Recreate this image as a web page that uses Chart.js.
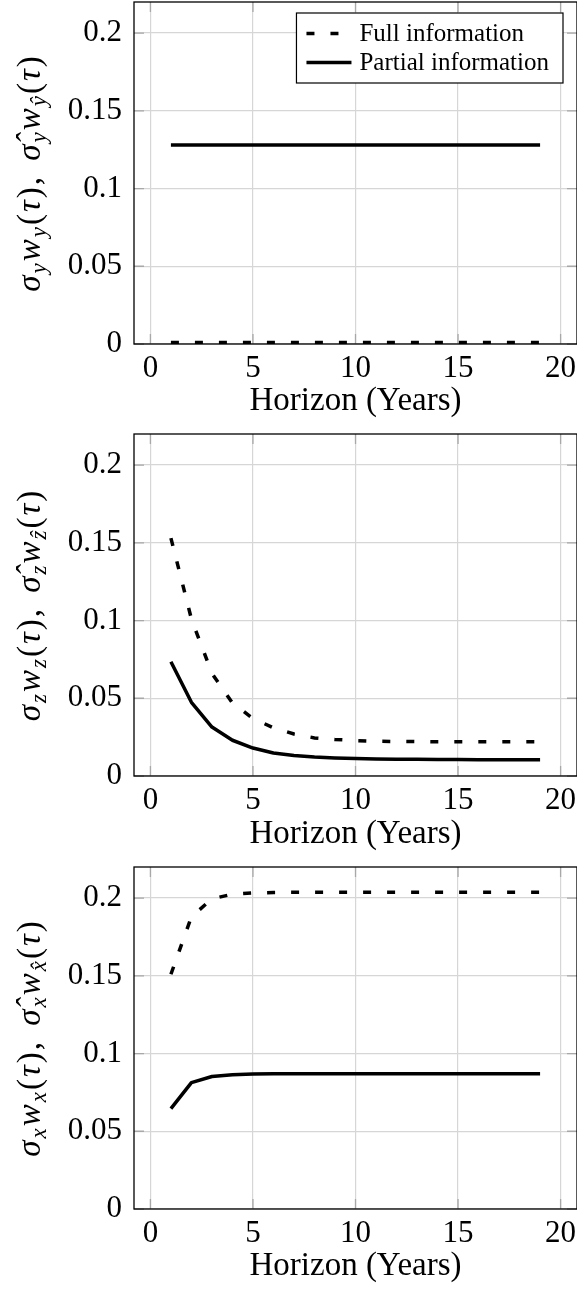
<!DOCTYPE html>
<html>
<head>
<meta charset="utf-8">
<script src="https://cdn.jsdelivr.net/npm/chart.js@4.4.0/dist/chart.umd.min.js"></script>
<style>
  body { margin: 0; background: #fff; width: 577px; height: 1297px; overflow: hidden; }
  .panel { position: relative; width: 577px; }
</style>
</head>
<body>
<div class="panel" style="height:432px"><canvas id="chartY"></canvas></div>
<div class="panel" style="height:433px"><canvas id="chartZ"></canvas></div>
<div class="panel" style="height:432px"><canvas id="chartX"></canvas></div>
<script>
// horizon in years
const horizon = [1, 2, 3, 4, 5, 6, 7, 8, 9, 10, 11, 12, 13, 14, 15, 16, 17, 18, 19];
const xTicks = [0, 5, 10, 15, 20];
const yTicks = [0, 0.05, 0.1, 0.15, 0.2];
const yTickLabels = ['0', '0.05', '0.1', '0.15', '0.2'];
const seriesNames = ['Full information', 'Partial information'];

// top panel (y)
const fullY = [0.001, 0.001, 0.001, 0.001, 0.001, 0.001, 0.001, 0.001, 0.001, 0.001, 0.001, 0.001, 0.001, 0.001, 0.001, 0.001, 0.001, 0.001, 0.001];
const partialY = [0.128, 0.128, 0.128, 0.128, 0.128, 0.128, 0.128, 0.128, 0.128, 0.128, 0.128, 0.128, 0.128, 0.128, 0.128, 0.128, 0.128, 0.128, 0.128];

// middle panel (z)
const fullZ = [0.153, 0.101, 0.066, 0.047, 0.037, 0.031, 0.027, 0.0245, 0.0235, 0.0228, 0.0224, 0.0222, 0.0221, 0.022, 0.022, 0.022, 0.022, 0.022, 0.022];
const partialZ = [0.0735, 0.0474, 0.0315, 0.023, 0.018, 0.0148, 0.0132, 0.0122, 0.0116, 0.0112, 0.011, 0.0108, 0.0107, 0.0106, 0.0106, 0.0105, 0.0105, 0.0105, 0.0105];

// bottom panel (x)
const fullX = [0.151, 0.188, 0.1995, 0.2025, 0.2033, 0.2036, 0.2037, 0.2037, 0.2037, 0.2037, 0.2037, 0.2037, 0.2037, 0.2037, 0.2037, 0.2037, 0.2037, 0.2037, 0.2037];
const partialX = [0.0646, 0.0813, 0.0852, 0.0864, 0.0868, 0.087, 0.087, 0.087, 0.087, 0.087, 0.087, 0.087, 0.087, 0.087, 0.087, 0.087, 0.087, 0.087, 0.087];

const serif = '"Liberation Serif", "DejaVu Serif", serif';

// rotated y label with subscripts, drawn as text
const yLabel = {
  id: 'yLabel',
  afterDraw(chart, args, opts) {
    const { ctx, chartArea } = chart;
    const s = opts.sub;
    const hatSub = s === 'y' ? 'ŷ' : s + '\u0302';
    const big = 33, small = 23, gap = 2;
    const parts = [
      ['σ', 'italic', 0], [s, 'italic', 1], ['w', 'italic', 0], [s, 'italic', 1],
      ['(', 'normal', 0], ['τ', 'italic', 0], [')', 'normal', 0], [',', 'normal', 0], [' ', 'normal', 0],
      ['σ\u0302', 'italic', 0], [s, 'italic', 1], ['w', 'italic', 0], [hatSub, 'italic', 1],
      ['(', 'normal', 0], ['τ', 'italic', 0], [')', 'normal', 0]
    ];
    const fontOf = p => p[1] + ' ' + (p[2] ? small : big) + 'px ' + serif;
    let total = 0;
    parts.forEach(p => {
      ctx.font = fontOf(p);
      p.w = ctx.measureText(p[0]).width + (p[0] === ' ' ? 6 : gap);
      total += p.w;
    });
    ctx.save();
    ctx.translate(opts.x, (chartArea.top + chartArea.bottom) / 2);
    ctx.rotate(-Math.PI / 2);
    ctx.fillStyle = '#000';
    ctx.textBaseline = 'alphabetic';
    let u = -total / 2;
    parts.forEach(p => {
      ctx.font = fontOf(p);
      ctx.fillText(p[0], u, p[2] ? 6 : 0);
      u += p.w;
    });
    ctx.restore();
  }
};

// tick marks inside the box, and the box itself
const frame = {
  id: 'frame',
  beforeDatasetsDraw(chart) {
    const { ctx, chartArea: a, scales } = chart;
    ctx.save();
    ctx.strokeStyle = '#a8a8a8';
    ctx.lineWidth = 1.3;
    ctx.beginPath();
    scales.x.ticks.forEach(t => {
      const px = scales.x.getPixelForValue(t.value);
      ctx.moveTo(px, a.bottom); ctx.lineTo(px, a.bottom - 10);
      ctx.moveTo(px, a.top); ctx.lineTo(px, a.top + 10);
    });
    scales.y.ticks.forEach(t => {
      const py = scales.y.getPixelForValue(t.value);
      ctx.moveTo(a.left, py); ctx.lineTo(a.left + 10, py);
      ctx.moveTo(a.right, py); ctx.lineTo(a.right - 10, py);
    });
    ctx.stroke();
    ctx.restore();
  },
  afterDatasetsDraw(chart) {
    const { ctx, chartArea: a } = chart;
    ctx.save();
    ctx.strokeStyle = '#000';
    ctx.lineWidth = 1.3;
    ctx.strokeRect(a.left, a.top, a.right - a.left, a.bottom - a.top);
    ctx.restore();
  }
};

// legend box in the top right corner of the plot
const boxLegend = {
  id: 'boxLegend',
  afterDraw(chart, args, opts) {
    if (!opts.show) return;
    const { ctx, chartArea } = chart;
    ctx.save();
    ctx.font = '25px ' + serif;
    const items = chart.data.datasets;
    const textW = Math.max(...items.map(d => ctx.measureText(d.label).width));
    const w = 10 + 45 + 8 + textW + 14, h = 70;
    const x0 = chartArea.right - 14 - w, y0 = chartArea.top + 11;
    ctx.fillStyle = '#fff';
    ctx.fillRect(x0, y0, w, h);
    ctx.strokeStyle = '#000';
    ctx.lineWidth = 1.2;
    ctx.strokeRect(x0, y0, w, h);
    items.forEach((d, i) => {
      const yy = y0 + 20.5 + i * 29;
      ctx.setLineDash(d.borderDash || []);
      ctx.lineWidth = d.borderWidth;
      ctx.strokeStyle = d.borderColor;
      ctx.beginPath();
      ctx.moveTo(x0 + 10, yy);
      ctx.lineTo(x0 + 55, yy);
      ctx.stroke();
      ctx.setLineDash([]);
      ctx.fillStyle = '#000';
      ctx.textBaseline = 'middle';
      ctx.fillText(d.label, x0 + 63, yy + 1);
    });
    ctx.restore();
  }
};

function makeChart(id, full, partial, sub, showLegend) {
  const ctx = document.getElementById(id).getContext('2d');
  return new Chart(ctx, {
    type: 'line',
    data: {
      labels: horizon,
      datasets: [{
        label: seriesNames[0],
        data: full,
        borderColor: '#000',
        borderWidth: 3.5,
        borderDash: [8, 16],
        borderCapStyle: 'butt',
        pointRadius: 0,
        tension: 0,
        fill: false
      }, {
        label: seriesNames[1],
        data: partial,
        borderColor: '#000',
        borderWidth: 3.5,
        borderJoinStyle: 'round',
        pointRadius: 0,
        tension: 0,
        fill: false
      }]
    },
    options: {
      responsive: true,
      maintainAspectRatio: false,
      animation: false,
      layout: { padding: { top: 2, right: 0, left: 0, bottom: 0 } },
      plugins: {
        legend: { display: false },
        tooltip: { enabled: false },
        yLabel: { sub: sub, x: 40 },
        boxLegend: { show: showLegend }
      },
      scales: {
        x: {
          type: 'linear',
          min: -0.8,
          max: 20.8,
          afterBuildTicks: s => { s.ticks = xTicks.map(v => ({ value: v })); },
          afterFit: s => { s.height = s.chart.height - 344; s.paddingLeft = 0; s.paddingRight = 0; },
          grid: { color: '#d6d6d6', lineWidth: 1.2, drawTicks: false },
          border: { display: false },
          ticks: { color: '#000', padding: 6, maxRotation: 0, font: { family: serif, size: 31 } },
          title: { display: true, text: 'Horizon (Years)', color: '#000', padding: { top: 0, bottom: 11 }, font: { family: serif, size: 33 } }
        },
        y: {
          min: 0,
          max: 0.22,
          afterBuildTicks: s => { s.ticks = yTicks.map(v => ({ value: v })); },
          afterFit: s => { s.width = 134; s.paddingTop = 0; s.paddingBottom = 0; },
          grid: { color: '#d6d6d6', lineWidth: 1.2, drawTicks: false },
          border: { display: false },
          ticks: {
            color: '#000',
            padding: 12,
            font: { family: serif, size: 31 },
            callback: (v) => yTickLabels[yTicks.indexOf(v)]
          }
        }
      }
    },
    plugins: [frame, yLabel, boxLegend]
  });
}

makeChart('chartY', fullY, partialY, 'y', true);
makeChart('chartZ', fullZ, partialZ, 'z', false);
makeChart('chartX', fullX, partialX, 'x', false);
</script>
</body>
</html>
